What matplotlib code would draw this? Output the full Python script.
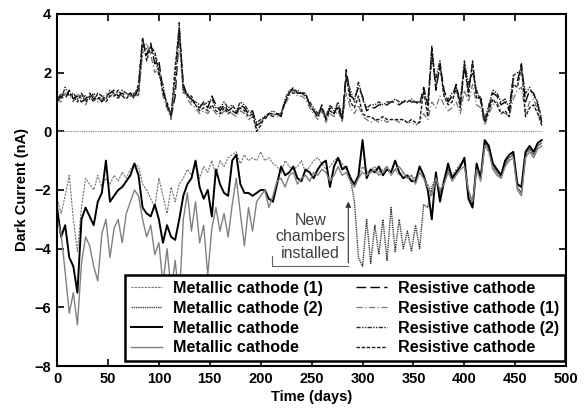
import matplotlib
matplotlib.use("Agg")
import matplotlib.pyplot as plt

plt.rcParams['font.family'] = ['Liberation Sans', 'DejaVu Sans']

# days (every 4 days)
days = list(range(0, 480, 4))

# resistive cathode chambers (positive currents)
res_a = [1.0, 1.2, 1.1, 1.4, 1.1, 1.2, 1.0, 1.1, 1.3, 1.1, 1.2, 1.0, 1.2, 1.3, 1.4, 1.2, 1.3, 1.2, 1.3, 1.1,
         1.5, 3.1, 2.6, 3.0, 2.3, 2.4, 1.4, 0.9, 0.5, 1.2, 3.4, 1.6, 1.2, 1.1, 0.9, 0.8, 1.0, 0.8, 1.2, 0.9,
         0.7, 0.9, 0.7, 0.8, 0.6, 0.9, 0.8, 0.6, 0.7, 0.2, 0.3, 0.4, 0.6, 0.6, 0.6, 0.5, 1.0, 1.3, 1.5, 1.3,
         1.3, 1.3, 0.9, 0.7, 0.5, 0.9, 0.4, 0.8, 0.6, 0.9, 0.4, 2.1, 1.2, 1.1, 1.5, 1.2, 0.7, 0.8, 0.8, 0.9,
         0.9, 0.9, 1.0, 1.0, 0.9, 1.0, 1.1, 1.0, 1.0, 0.9, 1.5, 0.9, 2.8, 1.4, 2.3, 1.4, 1.0, 1.2, 1.6, 0.9,
         2.2, 1.4, 2.3, 1.2, 1.1, 0.3, 0.8, 1.3, 1.2, 0.9, 1.0, 0.7, 1.8, 1.7, 2.3, 1.0, 1.4, 1.3, 0.9, 0.3]
res_1 = [1.1, 1.0, 1.3, 1.2, 1.0, 1.3, 1.1, 0.9, 1.2, 1.2, 1.0, 1.1, 1.3, 1.2, 1.3, 1.3, 1.2, 1.3, 1.2, 1.2,
         1.3, 2.6, 3.0, 2.6, 2.0, 2.2, 1.2, 0.8, 0.4, 1.5, 3.0, 1.4, 1.1, 0.9, 0.8, 0.6, 0.7, 0.6, 0.8, 0.6,
         0.5, 0.7, 0.6, 0.6, 0.5, 0.7, 0.6, 0.4, 0.5, 0.1, 0.3, 0.5, 0.5, 0.6, 0.5, 0.6, 0.9, 1.2, 1.4, 1.2,
         1.2, 1.1, 0.8, 0.6, 0.4, 0.7, 0.3, 0.6, 0.5, 0.7, 0.3, 1.3, 0.8, 0.6, 0.9, 0.5, 0.4, 0.3, 0.4, 0.3,
         0.4, 0.3, 0.4, 0.4, 0.3, 0.4, 0.3, 0.3, 0.2, 0.3, 0.6, 0.4, 1.0, 0.8, 1.2, 0.9, 0.7, 0.8, 1.0, 0.6,
         1.4, 1.0, 1.6, 0.9, 0.8, 0.2, 0.6, 0.9, 1.0, 0.7, 0.6, 0.5, 1.1, 1.4, 1.5, 0.6, 1.0, 1.1, 0.7, 0.2]
res_2 = [1.2, 1.1, 1.5, 1.2, 1.3, 1.1, 1.2, 1.2, 1.1, 1.3, 1.1, 1.2, 1.1, 1.4, 1.3, 1.1, 1.4, 1.3, 1.2, 1.3,
         1.2, 2.9, 2.8, 2.7, 2.6, 1.9, 1.6, 0.8, 0.6, 1.8, 3.7, 1.3, 1.3, 1.0, 1.0, 0.9, 0.9, 1.0, 1.1, 0.8,
         0.8, 1.0, 0.8, 0.9, 0.7, 1.0, 0.9, 0.7, 0.6, 0.3, 0.4, 0.5, 0.6, 0.7, 0.6, 0.6, 1.1, 1.4, 1.4, 1.4,
         1.3, 1.2, 1.0, 0.8, 0.6, 0.8, 0.5, 0.9, 0.7, 1.0, 0.5, 1.8, 1.4, 1.0, 1.7, 1.1, 0.8, 0.9, 0.9, 1.0,
         0.9, 1.0, 1.0, 1.1, 1.0, 1.0, 1.0, 1.1, 1.0, 1.0, 1.3, 1.0, 2.5, 1.8, 2.4, 1.2, 1.1, 1.3, 1.4, 1.0,
         2.4, 1.6, 2.0, 1.4, 1.0, 0.4, 0.9, 1.4, 1.3, 1.0, 1.1, 0.8, 1.9, 2.0, 2.1, 1.3, 1.5, 1.2, 1.0, 0.4]
res_b = [1.0, 1.3, 1.2, 1.3, 1.2, 1.0, 1.3, 1.0, 1.2, 1.0, 1.3, 1.2, 1.0, 1.2, 1.2, 1.4, 1.2, 1.1, 1.3, 1.2,
         1.6, 3.2, 2.4, 2.9, 2.7, 2.1, 1.3, 1.0, 0.5, 2.2, 3.5, 1.5, 1.2, 1.2, 0.9, 0.7, 0.8, 0.7, 0.9, 0.7,
         0.6, 0.8, 0.6, 0.7, 0.6, 0.8, 0.7, 0.5, 0.6, 0.0, 0.2, 0.5, 0.6, 0.5, 0.6, 0.6, 1.0, 1.3, 1.3, 1.3,
         1.3, 1.3, 0.9, 0.7, 0.5, 0.8, 0.4, 0.7, 0.6, 0.8, 0.4, 1.9, 1.0, 0.8, 1.2, 0.6, 0.5, 0.5, 0.4, 0.4,
         0.5, 0.4, 0.4, 0.4, 0.4, 0.4, 0.3, 0.4, 0.3, 0.3, 1.4, 0.5, 2.9, 1.5, 2.2, 1.2, 0.9, 1.0, 1.5, 0.8,
         2.3, 1.2, 2.4, 1.1, 1.2, 0.3, 0.7, 1.1, 0.9, 0.6, 0.7, 0.5, 1.6, 1.5, 2.2, 0.5, 0.8, 0.9, 0.6, 0.2]

# metallic cathode chambers (negative currents)
met_1 = [-2.3, -2.8, -2.2, -1.5, -3.0, -4.1, -2.6, -1.6, -1.8, -2.0, -1.5, -1.9, -1.6, -1.8, -1.5, -1.7, -1.4, -1.6, -1.3, -1.1,
         -1.2, -1.8, -2.0, -2.3, -2.6, -1.6, -2.2, -2.8, -1.9, -2.4, -1.8, -1.6, -1.3, -1.5, -1.1, -1.6, -1.2, -1.4, -1.0, -1.5,
         -1.0, -1.2, -0.9, -0.8, -0.7, -1.1, -0.8, -1.0, -0.9, -1.0, -0.7, -1.0, -0.9, -1.1, -1.2, -1.4, -1.0, -1.2, -1.3, -1.2,
         -1.0, -1.4, -1.2, -1.0, -0.9, -1.1, -1.3, -1.2, -1.0, -0.9, -1.1, -1.3, -1.5, -1.9, -1.6, -1.2, -1.4, -1.3, -1.2, -1.4,
         -1.3, -1.2, -1.4, -1.3, -1.5, -1.4, -1.6, -1.5, -1.6, -1.4, -1.6, -1.8, -2.1, -1.5, -2.1, -1.6, -1.3, -1.5, -1.3, -1.1,
         -1.0, -2.1, -2.5, -1.2, -1.5, -0.4, -0.6, -1.2, -1.4, -1.5, -1.1, -0.9, -0.8, -1.9, -2.1, -0.8, -0.6, -0.8, -0.5, -0.4]
met_a = [-2.6, -3.6, -3.2, -4.3, -4.6, -5.5, -3.0, -2.6, -2.9, -3.2, -2.4, -2.1, -1.0, -2.4, -2.2, -2.0, -1.9, -1.7, -1.5, -1.1,
         -1.5, -2.6, -2.8, -2.9, -2.5, -3.0, -3.8, -3.2, -3.6, -3.7, -3.0, -2.2, -1.8, -1.6, -1.0, -1.9, -2.3, -2.0, -2.9, -1.3,
         -1.8, -2.1, -2.2, -1.0, -0.8, -1.8, -2.1, -2.1, -2.2, -2.1, -2.0, -2.0, -2.3, -2.4, -1.8, -1.2, -1.5, -1.4, -1.2, -1.6,
         -1.7, -1.3, -1.4, -1.6, -1.3, -1.1, -1.0, -1.9, -1.2, -0.9, -1.3, -1.2, -1.6, -1.8, -1.5, -0.3, -1.6, -1.3, -1.4, -1.2,
         -1.5, -1.3, -1.4, -1.0, -1.4, -1.6, -1.5, -1.7, -1.7, -1.2, -1.5, -2.0, -3.0, -1.4, -2.4, -1.7, -1.1, -1.6, -1.4, -1.2,
         -0.9, -2.3, -2.6, -1.1, -1.6, -0.3, -0.5, -1.1, -1.3, -1.5, -1.0, -0.8, -0.7, -1.8, -1.9, -0.7, -0.5, -0.7, -0.4, -0.3]
met_b = [-3.0, -3.5, -4.8, -6.2, -5.5, -6.6, -4.5, -3.6, -3.9, -4.6, -5.1, -3.5, -3.0, -4.3, -3.3, -3.0, -3.8, -2.8, -2.4, -2.0,
         -2.2, -3.0, -3.6, -3.2, -4.2, -3.8, -5.2, -4.0, -5.4, -4.4, -5.8, -3.0, -2.1, -3.4, -2.4, -3.8, -3.2, -4.9, -3.3, -2.6,
         -3.4, -2.8, -3.6, -2.5, -1.6, -2.8, -3.9, -2.6, -3.4, -2.4, -2.2, -2.0, -2.6, -2.2, -1.7, -1.6, -1.9, -1.5, -1.4, -1.8,
         -1.6, -1.5, -1.7, -1.4, -1.5, -1.3, -1.4, -1.7, -1.5, -1.2, -1.5, -1.4, -1.7, -1.9, -1.6, -1.4, -1.5, -1.4, -1.3, -1.5,
         -1.4, -1.2, -1.5, -1.3, -1.2, -1.4, -1.6, -1.5, -1.8, -1.4, -1.6, -1.9, -2.2, -1.6, -2.0, -1.8, -1.4, -1.7, -1.5, -1.3,
         -1.2, -2.0, -2.4, -1.3, -1.7, -0.5, -0.7, -1.3, -1.5, -1.6, -1.2, -1.0, -0.9, -2.0, -2.2, -0.9, -0.7, -0.9, -0.6, -0.5]

# new chambers, from day 288 on
days_new = list(range(288, 480, 4))
met_2 = [-1.6, -2.4, -4.3, -4.6, -3.0, -4.5, -3.2, -4.2, -3.0, -4.4, -2.6, -4.1, -3.0, -4.0, -3.4, -4.1, -3.2, -4.0, -2.5, -2.6,
         -1.9, -1.6, -2.2, -1.8, -1.3, -1.6, -1.4, -1.2, -1.0, -2.2, -2.5, -1.2, -1.6, -0.4, -0.6, -1.2, -1.4, -1.6, -1.1, -0.9,
         -0.8, -1.9, -2.1, -0.8, -0.6, -0.8, -0.5, -0.4]

fig = plt.figure(figsize=(5.88, 4.09), dpi=100)
ax = fig.add_axes([0.097, 0.105, 0.866, 0.861])

ax.hlines(0, days[0], days[-1], colors='0.5', linestyles=(0, (1, 1)), linewidth=0.8)

l1, = ax.plot(days, met_1, color='0.45', linestyle=(0, (2, 1)), linewidth=0.8)
l2, = ax.plot(days_new, met_2, color='0.25', linestyle=(0, (1, 0.6)), linewidth=1.0)
l3, = ax.plot(days, met_a, color='black', linewidth=1.4)
l4, = ax.plot(days, met_b, color='0.5', linewidth=1.0)
r1, = ax.plot(days, res_a, color='black', linestyle=(0, (7, 3)), linewidth=1.0)
r2, = ax.plot(days, res_1, color='0.45', linestyle=(0, (5, 2, 1, 2)), linewidth=0.9)
r3, = ax.plot(days, res_2, color='0.15', linestyle=(0, (3, 1, 1, 1, 1, 1)), linewidth=1.0)
r4, = ax.plot(days, res_b, color='0.1', linestyle=(0, (2.5, 1.2)), linewidth=1.0)

# annotation for the new chambers
ax.plot([211, 211, 286], [-4.24, -4.58, -4.58], color='0.4', linewidth=0.8)
ax.annotate('', xy=(286, -2.3), xytext=(286, -4.58),
            arrowprops=dict(arrowstyle='-|>', color='0.2', lw=0.8, mutation_scale=8))
ax.text(249, -3.6, 'New\nchambers\ninstalled', ha='center', va='center',
        fontsize=11.5, color='0.25', linespacing=1.1)

ax.set_xlim(0, 500)
ax.set_ylim(-8, 4)
ax.set_xticks(range(0, 501, 50))
ax.set_yticks(range(-8, 5, 2))
ax.tick_params(direction='in', top=True, right=True, length=5, width=1.2, labelsize=10.5, pad=4)
for lab in ax.get_xticklabels() + ax.get_yticklabels():
    lab.set_fontweight('bold')
for s in ax.spines.values():
    s.set_linewidth(1.5)
ax.set_xlabel('Time (days)', fontsize=10.5, fontweight='bold', labelpad=3)
ax.set_ylabel('Dark Current (nA)', fontsize=10.5, fontweight='bold', labelpad=4)

leg = ax.legend([l1, l2, l3, l4, r1, r2, r3, r4],
                ['Metallic cathode (1)', 'Metallic cathode (2)', 'Metallic cathode', 'Metallic cathode',
                 'Resistive cathode', 'Resistive cathode (1)', 'Resistive cathode (2)', 'Resistive cathode'],
                ncol=2, loc='lower left', bbox_to_anchor=(0.134, 0.014, 0.864, 0.25), mode='expand',
                borderaxespad=0, fancybox=False, framealpha=1, edgecolor='black', handlelength=1.9,
                columnspacing=0.6, handletextpad=0.7, labelspacing=0.3, borderpad=0.35,
                prop={'weight': 'bold', 'size': 11.6})
leg.get_frame().set_linewidth(1.8)

fig.savefig('out.png', dpi=100)
